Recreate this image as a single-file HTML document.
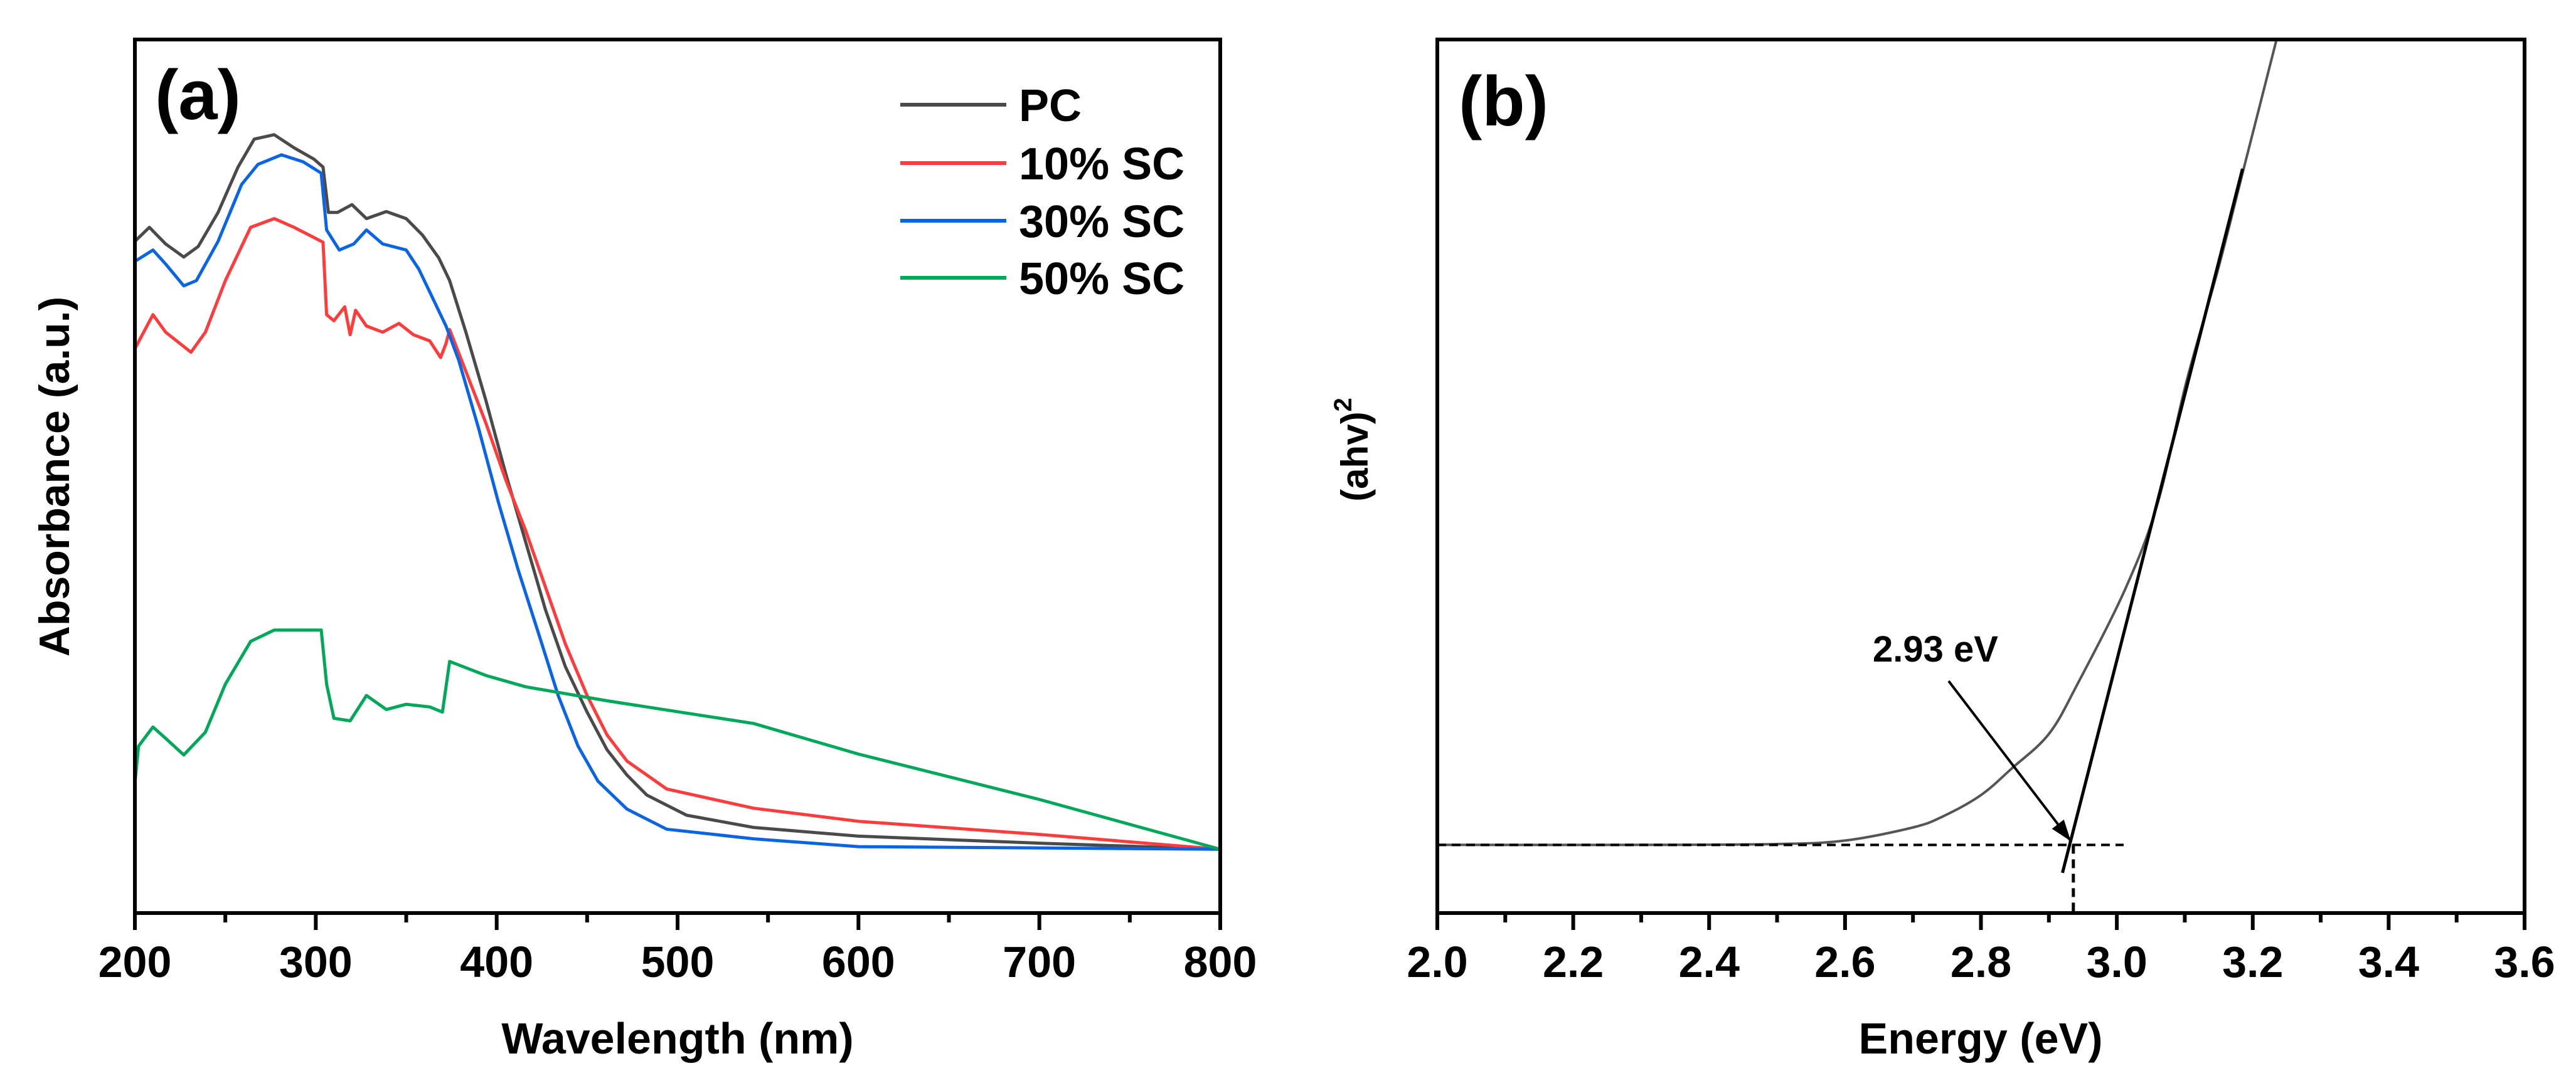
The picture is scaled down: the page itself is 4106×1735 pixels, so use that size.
<!DOCTYPE html>
<html><head><meta charset="utf-8"><style>
html,body{margin:0;padding:0;background:#fff;}
svg{display:block;font-family:"Liberation Sans",Arial,sans-serif;font-weight:bold;}
</style></head>
<body>
<svg id="fig" width="4106" height="1735" viewBox="0 0 4106 1735" xmlns="http://www.w3.org/2000/svg">
<defs><clipPath id="clipA"><rect x="215" y="63" width="1730" height="1393"/></clipPath>
<clipPath id="clipB"><rect x="2291" y="63" width="1733" height="1393"/></clipPath></defs>
<g id="panelA"></g>
<g id="panelB"></g>
</svg>
<script>
// ---- Panel (a) data ----
const aTicks = [200,300,400,500,600,700,800];
const aMinor = [250,350,450,550,650,750];
const pcX = [200,208,217,227,235,246,257,266,277,288,299,304,307,312,320,328,339,350,359,368,374,383,394,405,416,427,438,450,461,472,483,505,542,600,700,800];
const pcY = [0.769,0.785,0.766,0.751,0.763,0.802,0.854,0.886,0.891,0.876,0.863,0.854,0.802,0.802,0.811,0.795,0.803,0.795,0.776,0.750,0.724,0.665,0.587,0.503,0.425,0.347,0.282,0.230,0.187,0.158,0.135,0.112,0.098,0.088,0.080,0.073];
const sc10X = [200,210,217,231,239,250,264,277,288,304,306,310,316,319,322,328,337,346,354,363,369,372,374,383,394,405,416,427,438,450,461,472,494,542,600,700,800];
const sc10Y = [0.646,0.685,0.665,0.642,0.665,0.724,0.785,0.795,0.785,0.768,0.685,0.678,0.694,0.662,0.690,0.672,0.665,0.675,0.662,0.655,0.636,0.652,0.668,0.620,0.561,0.496,0.438,0.373,0.308,0.249,0.204,0.174,0.142,0.120,0.105,0.090,0.073];
const sc30X = [200,210,217,227,234,246,259,268,281,293,303,306,313,321,328,337,350,357,363,372,379,390,401,412,423,434,445,456,472,494,542,600,800];
const sc30Y = [0.746,0.759,0.743,0.718,0.724,0.769,0.834,0.857,0.868,0.860,0.847,0.782,0.759,0.766,0.782,0.766,0.759,0.737,0.711,0.672,0.633,0.555,0.470,0.392,0.321,0.249,0.191,0.151,0.119,0.096,0.085,0.076,0.073];
const sc50X = [200,202,210,217,227,239,250,264,277,288,303,306,310,319,328,339,350,363,370,374,394,416,461,542,600,700,800];
const sc50Y = [0.148,0.191,0.213,0.200,0.181,0.207,0.262,0.311,0.324,0.324,0.324,0.262,0.223,0.220,0.249,0.233,0.239,0.236,0.230,0.288,0.272,0.259,0.243,0.217,0.182,0.130,0.073];
const seriesNames = ["PC","10% SC","30% SC","50% SC"];
// ---- Panel (b) data ----
const bTicks = [2.0,2.2,2.4,2.6,2.8,3.0,3.2,3.4,3.6];
const bMinor = [2.1,2.3,2.5,2.7,2.9,3.1,3.3,3.5];
const eX = [2.0,2.3,2.5,2.6,2.7,2.745,2.8,2.846,2.9,2.942,3.013,3.06,3.102,3.149,3.185,3.235,3.26];
const eY = [0.078,0.078,0.079,0.083,0.098,0.111,0.135,0.166,0.205,0.262,0.372,0.469,0.607,0.737,0.847,1.0,1.08];
const tangentX = [2.92,3.185];
const tangentY = [0.046,0.852];
const gapValue = [2.936];
const gapLabel = "2.93 eV";
const baseY = [0.078];

const NS="http://www.w3.org/2000/svg";
function mk(tag,attrs,parent){const e=document.createElementNS(NS,tag);for(const k in attrs)e.setAttribute(k,attrs[k]);parent.appendChild(e);return e;}
const TOP=63,BOT=1456;
function yS(v){return BOT-v*(BOT-TOP);}
function xA(v){return 215+(v-200)*(1945-215)/600;}
function xB(v){return 2291+(v-2.0)*(4024-2291)/1.6;}
function pts(xs,ys,fx){return xs.map((x,i)=>fx(x).toFixed(1)+","+yS(ys[i]).toFixed(1)).join(" ");}
function smoothPath(xs,ys,fx){
  const P=xs.map((x,i)=>[fx(x),yS(ys[i])]);
  let d="M"+P[0][0].toFixed(1)+","+P[0][1].toFixed(1);
  for(let i=0;i<P.length-1;i++){
    const p0=P[Math.max(0,i-1)],p1=P[i],p2=P[i+1],p3=P[Math.min(P.length-1,i+2)];
    const c1=[p1[0]+(p2[0]-p0[0])/6,p1[1]+(p2[1]-p0[1])/6];
    const c2=[p2[0]-(p3[0]-p1[0])/6,p2[1]-(p3[1]-p1[1])/6];
    d+=" C"+c1[0].toFixed(1)+","+c1[1].toFixed(1)+" "+c2[0].toFixed(1)+","+c2[1].toFixed(1)+" "+p2[0].toFixed(1)+","+p2[1].toFixed(1);
  }
  return d;
}

const A=document.getElementById('panelA');
const B=document.getElementById('panelB');

const colors=["#4a4a4a","#ff3b3b","#0a64e6","#00a85a"];
const sx=[pcX,sc10X,sc30X,sc50X], sy=[pcY,sc10Y,sc30Y,sc50Y];
const names=["series-pc","series-10sc","series-30sc","series-50sc"];
const gA=mk('g',{'clip-path':'url(#clipA)'},A);
for(let i=0;i<4;i++){
  const p=mk('polyline',{points:pts(sx[i],sy[i],xA),fill:'none',stroke:colors[i],'stroke-width':5,'stroke-linejoin':'round'},gA);
  
  
}
const fa=mk('rect',{x:215,y:63,width:1730,height:1393,fill:'none',stroke:'#000','stroke-width':6},A);


aTicks.forEach(t=>{
  const l=mk('line',{x1:xA(t),x2:xA(t),y1:BOT,y2:BOT+27,stroke:'#000','stroke-width':6},A);
  
  
  const tx=mk('text',{x:xA(t),y:1558,'text-anchor':'middle','font-size':70},A);
  tx.textContent=t;
  
  
});
aMinor.forEach(t=>{
  const l=mk('line',{x1:xA(t),x2:xA(t),y1:BOT,y2:BOT+15,stroke:'#000','stroke-width':6},A);
  
  
});
const legY=[167,260,352,443];
[0,1,2,3].forEach((s,i)=>{
  const l=mk('line',{x1:1435,x2:1604,y1:legY[i],y2:legY[i],stroke:colors[s],'stroke-width':6},A);
  
  
  const t=mk('text',{x:1624,y:legY[i]+26,'font-size':72},A);
  t.textContent=seriesNames[s];
  
  
});

// Panel B
const gB=mk('g',{'clip-path':'url(#clipB)'},B);
const cv=mk('path',{d:smoothPath(eX,eY,xB),fill:'none',stroke:'#555','stroke-width':4,'stroke-linejoin':'round'},gB);


const tg=mk('line',{x1:xB(tangentX[0]),y1:yS(tangentY[0]),x2:xB(tangentX[1]),y2:yS(tangentY[1]),stroke:'#000','stroke-width':5},gB);


const hb=mk('line',{x1:xB(2.0),y1:yS(baseY[0]),x2:xB(3.01),y2:yS(baseY[0]),stroke:'#000','stroke-width':4,'stroke-dasharray':'14 9'},gB);


const vb=mk('line',{x1:xB(gapValue[0]),y1:yS(baseY[0]),x2:xB(gapValue[0]),y2:BOT,stroke:'#000','stroke-width':5,'stroke-dasharray':'14 9'},gB);


const ax2=xB(gapValue[0])-4, ay2=yS(baseY[0])-6;
const ar=mk('line',{x1:3106,y1:1086,x2:ax2,y2:ay2,stroke:'#000','stroke-width':4},B);


const ah=mk('path',{d:'M0,0 L-34,-12 L-34,12 z',fill:'#000',transform:`translate(${ax2},${ay2}) rotate(${Math.atan2(ay2-1086,ax2-3106)*180/Math.PI})`},B);


const gl=mk('text',{x:3085,y:1055,'text-anchor':'middle','font-size':58},B);
gl.textContent=gapLabel;


const fb=mk('rect',{x:2291,y:63,width:1733,height:1393,fill:'none',stroke:'#000','stroke-width':6},B);


bTicks.forEach(t=>{
  const l=mk('line',{x1:xB(t),x2:xB(t),y1:BOT,y2:BOT+27,stroke:'#000','stroke-width':6},B);
  
  
  const tx=mk('text',{x:xB(t),y:1558,'text-anchor':'middle','font-size':70},B);
  tx.textContent=t.toFixed(1);
  
  
});
bMinor.forEach(t=>{
  const l=mk('line',{x1:xB(t),x2:xB(t),y1:BOT,y2:BOT+15,stroke:'#000','stroke-width':6},B);
  
  
});
</script>
<div style="position:absolute;left:0;top:0;width:4106px;height:1735px;pointer-events:none;">
<svg width="4106" height="1735" style="font-family:'Liberation Sans',Arial,sans-serif;font-weight:bold;">
<text x="247" y="190" font-size="112">(a)</text>
<text x="2325" y="200" font-size="112">(b)</text>
<text x="1080" y="1680" text-anchor="middle" font-size="70">Wavelength (nm)</text>
<text x="3157" y="1680" text-anchor="middle" font-size="70">Energy (eV)</text>
<text transform="translate(110,760) rotate(-90)" text-anchor="middle" font-size="68">Absorbance (a.u.)</text>
<text transform="translate(2180,717) rotate(-90)" text-anchor="middle" font-size="60">(ahv)<tspan font-size="40" dy="-26">2</tspan></text>
</svg></div>
</body></html>
